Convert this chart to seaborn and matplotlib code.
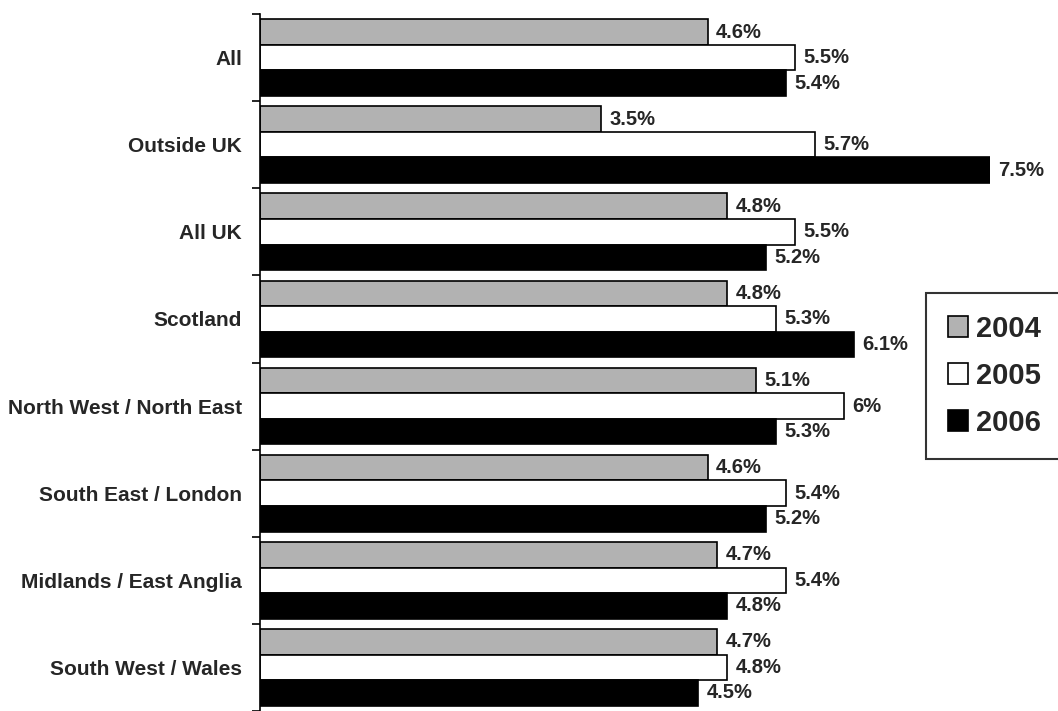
import pandas as pd
import numpy as np
import matplotlib
matplotlib.use('Agg')
import matplotlib.pyplot as plt
import matplotlib.patches as mpatches
import seaborn as sns

regions = ['All', 'Outside UK', 'All UK', 'Scotland', 'North West / North East',
           'South East / London', 'Midlands / East Anglia', 'South West / Wales']
years = ['2004', '2005', '2006']
vals_2004 = [4.6, 3.5, 4.8, 4.8, 5.1, 4.6, 4.7, 4.7]
vals_2005 = [5.5, 5.7, 5.5, 5.3, 6.0, 5.4, 5.4, 4.8]
vals_2006 = [5.4, 7.5, 5.2, 6.1, 5.3, 5.2, 4.8, 4.5]
colours = {'2004': '#b2b2b2', '2005': '#ffffff', '2006': '#000000'}

sns.set_style('white')
plt.rcParams['font.family'] = ['Liberation Sans', 'DejaVu Sans']
plt.rcParams['font.weight'] = 'bold'

df = pd.DataFrame({
    'region': regions * 3,
    'year': np.repeat(years, len(regions)),
    'value': vals_2004 + vals_2005 + vals_2006,
})

fig = plt.figure(figsize=(10.58, 7.11), dpi=100)
ax = fig.add_axes([260 / 1058, 0.0, (990 - 260) / 1058, 1 - 14 / 711])

sns.barplot(data=df, x='value', y='region', hue='year', order=regions, hue_order=years,
            orient='h', palette=colours, saturation=1, edgecolor='black', linewidth=1.2,
            width=0.88, legend=False, ax=ax)

# value labels at the end of each bar
for cont, yr in zip(ax.containers, years):
    labs = ['%g%%' % v for v in df.loc[df['year'] == yr, 'value']]
    ax.bar_label(cont, labels=labs, padding=6, fontsize=14.5, fontweight='bold')

ax.set_xlim(0, 7.5)
ax.set_ylim(len(regions) - 0.5, -0.5)
ax.set_xlabel('')
ax.set_ylabel('')
ax.set_xticks([])

# category ticks sit between the groups, like the original
ax.set_yticks(np.arange(len(regions)))
ax.set_yticklabels(regions, fontsize=15, fontweight='bold')
ax.set_yticks(np.arange(len(regions) + 1) - 0.5, minor=True)
ax.tick_params(axis='y', which='both', left=True)
ax.tick_params(axis='y', which='major', length=0, pad=13)
ax.tick_params(axis='y', which='minor', length=6, width=1.2, color='black', direction='out')

for s in ['top', 'right', 'bottom']:
    ax.spines[s].set_visible(False)
ax.spines['left'].set_linewidth(1.2)
ax.spines['left'].set_color('black')

handles = [mpatches.Patch(facecolor=colours[y], edgecolor='black', linewidth=1.2, label=y)
           for y in years]
leg = fig.legend(handles=handles, loc='upper left', bbox_to_anchor=(926 / 1058, 1 - 293 / 711),
                 prop={'weight': 'bold', 'size': 21}, frameon=True, fancybox=False,
                 handlelength=0.7, handleheight=0.7, handletextpad=0.25,
                 labelspacing=0.65, borderpad=0.75, borderaxespad=0)
leg.get_frame().set_edgecolor('black')
leg.get_frame().set_linewidth(1.5)

fig.savefig('out.png', dpi=100)
